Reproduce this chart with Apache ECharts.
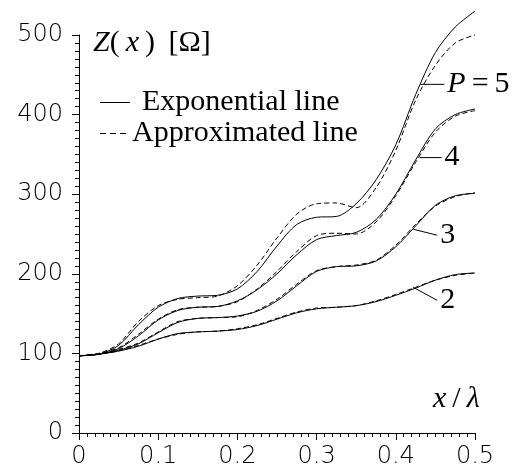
<!DOCTYPE html>
<html>
<head>
<meta charset="utf-8">
<script src="https://cdn.jsdelivr.net/npm/echarts@6/dist/echarts.min.js"></script>
<style>
  html, body { margin: 0; padding: 0; background: #fff; }
  #chart { width: 516px; height: 472px; }
</style>
</head>
<body>
<div id="chart"></div>
<script>
// x / lambda sample points
const xs = [0, 0.025, 0.05, 0.075, 0.1, 0.125, 0.15, 0.175, 0.2, 0.225, 0.25,
            0.275, 0.3, 0.325, 0.35, 0.375, 0.4, 0.425, 0.45, 0.475, 0.5];

// Z(x), exponential (solid) and approximated (dashed)
const expP2 = [97, 99, 103, 109, 118, 125, 127, 128, 130, 135, 143, 151, 156, 158, 160, 165, 173, 182, 192, 199, 201];
const apxP2 = [97, 99, 103, 110, 118, 124, 127, 128, 131, 136, 144, 152, 157, 158, 160, 166, 174, 183, 192, 198, 201];
const expP3 = [97, 99, 104, 112, 126, 139, 144, 145, 147, 153, 166, 185, 203, 209, 210, 216, 234, 260, 286, 298, 301];
const apxP3 = [97, 99, 105, 113, 127, 140, 144, 145, 146, 154, 168, 187, 204, 209, 211, 217, 236, 262, 285, 297, 302];
const expP4 = [97, 99, 106, 122, 142, 154, 158, 159, 166, 180, 200, 224, 243, 248, 252, 268, 300, 343, 382, 400, 407];
const apxP4 = [97, 100, 107, 124, 143, 155, 158, 159, 165, 181, 203, 228, 248, 251, 250, 265, 298, 340, 378, 398, 405];
const expP5 = [97, 99, 110, 136, 158, 169, 172, 173, 181, 203, 235, 262, 271, 272, 288, 318, 362, 425, 478, 510, 530];
const apxP5 = [97, 100, 112, 140, 160, 168, 170, 172, 185, 211, 245, 275, 288, 289, 283, 308, 355, 418, 462, 490, 500];

// curve labels and where their leaders touch the curves
const curveLabels = ['P=5', '4', '3', '2'];
const labelAnchorX = [0.431, 0.43, 0.422, 0.422];
const labelAnchorY = [438, 346, 256, 183];

const chart = echarts.init(document.getElementById('chart'));

const pairs = vals => xs.map((x, i) => [x, vals[i]]);
const mkLine = (name, vals, dashed) => ({
    name: name,
    type: 'line',
    data: pairs(vals),
    smooth: 0.3,
    showSymbol: false,
    clip: false,
    silent: true,
    lineStyle: { color: '#000', width: 1, type: dashed ? [5, 3] : 'solid' }
});

const axisCommon = {
    axisLine: { lineStyle: { color: '#000', width: 1 } },
    axisTick: { show: true, length: 7, lineStyle: { color: '#000', width: 1 } },
    minorTick: { show: true, splitNumber: 10, length: 4, lineStyle: { color: '#000', width: 1 } },
    splitLine: { show: false }
};
const tickFont = { color: '#000', fontFamily: 'DejaVu Sans', fontWeight: 200, fontSize: 24 };

chart.setOption({
    animation: false,
    backgroundColor: '#fff',
    grid: { left: 79, right: 41, top: 35, bottom: 39, containLabel: false, outerBoundsMode: 'none' },
    xAxis: Object.assign({}, axisCommon, {
        type: 'value', min: 0, max: 0.5, interval: 0.1,
        axisLabel: Object.assign({}, tickFont, { margin: 12, formatter: v => v === 0 ? '0' : v.toFixed(1) })
    }),
    yAxis: Object.assign({}, axisCommon, {
        type: 'value', min: 0, max: 500, interval: 100,
        axisLabel: Object.assign({}, tickFont, { margin: 16 })
    }),
    series: [
        mkLine('exp2', expP2, false), mkLine('apx2', apxP2, true),
        mkLine('exp3', expP3, false), mkLine('apx3', apxP3, true),
        mkLine('exp4', expP4, false), mkLine('apx4', apxP4, true),
        mkLine('exp5', expP5, false), mkLine('apx5', apxP5, true)
    ]
});

const serif = 'Liberation Serif';
const richI = { i: { fontStyle: 'italic', fontFamily: serif, fontSize: 30 } };
const thin = '\u2009';
const graphics = [
    {
        type: 'text', x: 93, y: 43,
        style: { text: '{i|Z}(' + thin + '{i|x}' + thin + ')' + thin + ' [Ω]', fill: '#000', font: '30px ' + serif, textVerticalAlign: 'middle', rich: richI }
    },
    { type: 'line', shape: { x1: 100, y1: 102.5, x2: 130, y2: 102.5 }, style: { stroke: '#000', lineWidth: 1 } },
    { type: 'text', x: 142, y: 102, style: { text: 'Exponential line', fill: '#000', font: '30px ' + serif, textVerticalAlign: 'middle' } },
    { type: 'line', shape: { x1: 100, y1: 133.5, x2: 130, y2: 133.5 }, style: { stroke: '#000', lineWidth: 1, lineDash: [6, 4] } },
    { type: 'text', x: 132, y: 133, style: { text: 'Approximated line', fill: '#000', font: '30px ' + serif, textVerticalAlign: 'middle' } },
    {
        type: 'text', x: 433, y: 399,
        style: { text: '{i|x}' + thin + '/' + thin + '{i|λ}', fill: '#000', font: '30px ' + serif, textVerticalAlign: 'middle', rich: richI }
    }
];

// leader offsets (pixels) from the anchor point to the label
const leadDx = [24, 22, 24, 24];
const leadDy = [0, 0, 6, 13];
curveLabels.forEach((lab, k) => {
    const p = chart.convertToPixel({ gridIndex: 0 }, [labelAnchorX[k], labelAnchorY[k]]);
    const ex = p[0] + leadDx[k], ey = p[1] + leadDy[k];
    graphics.push({ type: 'line', shape: { x1: p[0], y1: p[1], x2: ex, y2: ey }, style: { stroke: '#000', lineWidth: 1 } });
    const txt = lab.startsWith('P') ? '{i|P}' + thin + lab.slice(1, 2) + thin + lab.slice(2) : lab;
    graphics.push({
        type: 'text', x: ex + 3, y: ey,
        style: { text: txt, fill: '#000', font: '30px ' + serif, textVerticalAlign: 'middle', rich: richI }
    });
});

chart.setOption({ graphic: graphics });
</script>
</body>
</html>
